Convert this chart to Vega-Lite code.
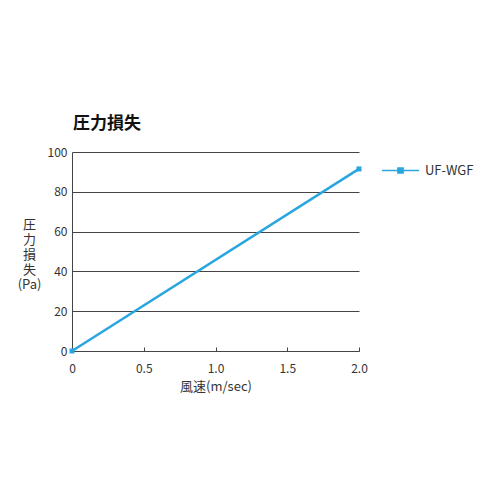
{
  "$schema": "https://vega.github.io/schema/vega-lite/v6.json",
  "autosize": {"type": "none"},
  "padding": {"left": 72, "top": 152, "right": 141, "bottom": 149},
  "width": 287,
  "height": 199,
  "background": "white",
  "title": {
    "text": "圧力損失",
    "anchor": "start",
    "frame": "group",
    "font": "Noto Sans CJK JP",
    "fontSize": 17,
    "fontWeight": "bold",
    "color": "#111111",
    "offset": 13,
    "dx": 1
  },
  "config": {
    "view": {"stroke": null},
    "font": "Noto Sans CJK JP",
    "axis": {
      "labelFont": "Noto Sans CJK JP",
      "titleFont": "Noto Sans CJK JP",
      "labelColor": "#333333",
      "titleColor": "#333333",
      "labelFontSize": 12,
      "titleFontSize": 13,
      "titleFontWeight": "normal",
      "domainColor": "#444444",
      "gridColor": "#444444",
      "tickColor": "#444444"
    },
    "legend": {
      "labelFont": "Noto Sans CJK JP",
      "labelFontSize": 13,
      "labelColor": "#333333"
    }
  },
  "data": {
    "values": [
      {"speed": 0, "loss": 0, "model": "UF-WGF"},
      {"speed": 2.0, "loss": 91.5, "model": "UF-WGF"}
    ]
  },
  "mark": {
    "type": "line",
    "strokeWidth": 2.5,
    "point": {"shape": "square", "size": 25, "filled": true}
  },
  "encoding": {
    "x": {
      "field": "speed",
      "type": "quantitative",
      "scale": {"domain": [0, 2], "nice": false},
      "axis": {
        "values": [0, 0.5, 1, 1.5, 2],
        "format": ".1f",
        "labelExpr": "datum.value == 0 ? '0' : datum.label",
        "labelFlush": false,
        "grid": false,
        "tickSize": -4,
        "labelPadding": 16,
        "title": "風速(m/sec)",
        "titlePadding": 6
      }
    },
    "y": {
      "field": "loss",
      "type": "quantitative",
      "scale": {"domain": [0, 100], "nice": false},
      "axis": {
        "values": [0, 20, 40, 60, 80, 100],
        "ticks": false,
        "grid": true,
        "labelPadding": 5,
        "title": ["圧", "力", "損", "失", "(Pa)"],
        "titleAngle": 0,
        "titleFontSize": 13,
        "titleLineHeight": 15,
        "titleAlign": "center",
        "titleBaseline": "middle",
        "titleX": -43,
        "titleY": 72
      }
    },
    "color": {
      "field": "model",
      "type": "nominal",
      "scale": {"range": ["#29a6df"]},
      "legend": {
        "title": null,
        "orient": "none",
        "legendX": 309,
        "legendY": -1,
        "symbolType": "M-1,0H1M-0.14,-0.14H0.14V0.14H-0.14Z",
        "symbolSize": 1369,
        "symbolStrokeWidth": 1.5,
        "symbolFillColor": "#29a6df",
        "labelOffset": 5
      }
    }
  }
}
